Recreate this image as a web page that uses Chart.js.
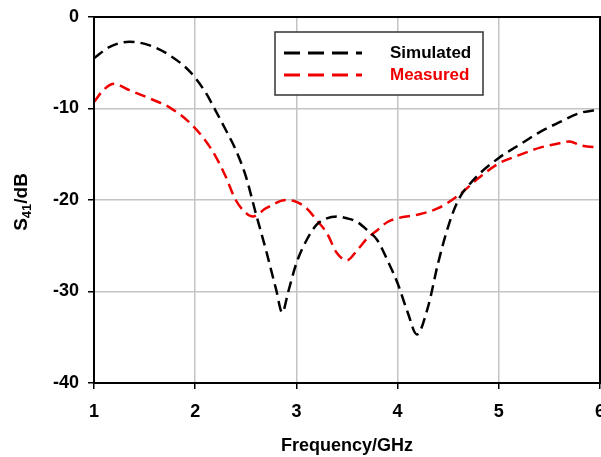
<!DOCTYPE html>
<html lang="en">
<head>
    <meta charset="UTF-8">
    <title>S41 vs Frequency</title>
    <script src="https://cdn.jsdelivr.net/npm/chart.js"></script>
    <style>
        body {
            margin: 0;
            padding: 0;
            background: #FFFFFF;
        }
        #wrap {
            width: 601px;
            height: 457px;
        }
    </style>
</head>
<body>
    <div id="wrap">
        <canvas id="s41Chart" width="601" height="457"></canvas>
    </div>

    <script>
        // Simulated S41 (GHz, dB)
        const simFreq = [1.0, 1.15, 1.35, 1.55, 1.75, 1.95, 2.1, 2.2, 2.3, 2.4, 2.5, 2.6, 2.7, 2.8, 2.86,
                         2.92, 3.0, 3.1, 3.2, 3.3, 3.4, 3.5, 3.6, 3.7, 3.8, 3.9, 4.0, 4.1, 4.19,
                         4.3, 4.4, 4.5, 4.6, 4.75, 5.0, 5.2, 5.4, 5.6, 5.8, 6.0];
        const simLoss = [-4.5, -3.3, -2.7, -3.1, -4.2, -6.0, -8.2, -10.2, -12.3, -14.5, -17.4, -21.5, -25.5, -29.8, -32.3,
                         -30.0, -26.9, -24.4, -22.7, -22.0, -21.8, -22.0, -22.4, -23.3, -24.4, -26.6, -29.1, -32.3, -34.7,
                         -31.7, -26.9, -22.9, -20.0, -17.8, -15.4, -14.0, -12.6, -11.5, -10.5, -10.1];

        // Measured S41 (GHz, dB)
        const measFreq = [1.0, 1.1, 1.2, 1.35, 1.55, 1.75, 1.95, 2.1, 2.2, 2.3, 2.4, 2.5, 2.57, 2.7, 2.9,
                          3.0, 3.1, 3.2, 3.3, 3.4, 3.5, 3.6, 3.7, 3.8, 3.9, 4.0, 4.2, 4.4, 4.6,
                          4.8, 5.0, 5.2, 5.4, 5.6, 5.7, 5.8, 6.0];
        const measLoss = [-9.3, -7.9, -7.3, -8.0, -8.9, -9.9, -11.6, -13.5, -15.2, -17.4, -20.0, -21.4, -21.8, -20.9, -20.0,
                          -20.2, -20.9, -22.2, -23.6, -25.8, -26.6, -25.5, -24.2, -23.3, -22.4, -22.0, -21.6, -20.9, -19.5,
                          -17.6, -16.0, -15.1, -14.3, -13.8, -13.6, -14.0, -14.3];

        const seriesNames = ['Simulated', 'Measured'];
        const seriesColors = ['#000000', '#EE0000'];

        const xTicks = [1, 2, 3, 4, 5, 6];
        const yTicks = [0, -10, -20, -30, -40];

        const fontFamily = "'Liberation Sans', Arial, sans-serif";

        function toPoints(xs, ys) {
            return xs.map((x, i) => ({ x: x, y: ys[i] }));
        }

        // frame around plot area + legend + y title with subscript
        const extras = {
            id: 'extras',
            afterDraw(chart) {
                const ctx = chart.ctx;
                const a = chart.chartArea;
                ctx.save();

                // black frame
                ctx.strokeStyle = '#000';
                ctx.lineWidth = 2;
                ctx.strokeRect(a.left, a.top, a.right - a.left, a.bottom - a.top);

                // legend box
                ctx.fillStyle = '#fff';
                ctx.fillRect(275, 32, 208, 63);
                ctx.strokeStyle = '#333';
                ctx.lineWidth = 1.5;
                ctx.strokeRect(275, 32, 208, 63);

                const rows = [53, 75];
                rows.forEach((y, i) => {
                    ctx.beginPath();
                    ctx.setLineDash([16, 8]);
                    ctx.lineWidth = 3;
                    ctx.strokeStyle = seriesColors[i];
                    ctx.moveTo(284, y);
                    ctx.lineTo(362, y);
                    ctx.stroke();
                    ctx.setLineDash([]);
                    ctx.fillStyle = seriesColors[i];
                    ctx.font = 'bold 17px ' + fontFamily;
                    ctx.textBaseline = 'middle';
                    ctx.textAlign = 'left';
                    ctx.fillText(seriesNames[i], 390, y);
                });

                // y title: S41/dB with subscript
                ctx.translate(27, 202);
                ctx.rotate(-Math.PI / 2);
                ctx.fillStyle = '#000';
                ctx.textBaseline = 'alphabetic';
                ctx.textAlign = 'left';
                const big = 'bold 19px ' + fontFamily;
                const small = 'bold 13px ' + fontFamily;
                ctx.font = big;
                const wS = ctx.measureText('S').width;
                const wD = ctx.measureText('/dB').width;
                ctx.font = small;
                const wSub = ctx.measureText('41').width;
                let x0 = -(wS + wSub + wD) / 2;
                ctx.font = big;
                ctx.fillText('S', x0, 0);
                ctx.font = small;
                ctx.fillText('41', x0 + wS, 4);
                ctx.font = big;
                ctx.fillText('/dB', x0 + wS + wSub, 0);

                ctx.restore();
            }
        };

        const ctx = document.getElementById('s41Chart').getContext('2d');
        new Chart(ctx, {
            type: 'line',
            data: {
                datasets: [
                    {
                        label: seriesNames[0],
                        data: toPoints(simFreq, simLoss),
                        borderColor: seriesColors[0],
                        borderWidth: 2.5,
                        borderDash: [11, 6],
                        pointRadius: 0,
                        fill: false,
                        cubicInterpolationMode: 'monotone'
                    },
                    {
                        label: seriesNames[1],
                        data: toPoints(measFreq, measLoss),
                        borderColor: seriesColors[1],
                        borderWidth: 2.5,
                        borderDash: [11, 6],
                        pointRadius: 0,
                        fill: false,
                        cubicInterpolationMode: 'monotone'
                    }
                ]
            },
            options: {
                responsive: false,
                animation: false,
                layout: {
                    autoPadding: false,
                    padding: { left: 0, right: 1, top: 17, bottom: 0 }
                },
                plugins: {
                    legend: { display: false },
                    tooltip: { enabled: false }
                },
                scales: {
                    x: {
                        type: 'linear',
                        min: 1,
                        max: 6,
                        afterBuildTicks: scale => { scale.ticks = xTicks.map(v => ({ value: v })); },
                        afterFit: scale => {
                            scale.height = 74;
                            scale.paddingLeft = 0;
                            scale.paddingRight = 0;
                        },
                        ticks: {
                            color: '#000',
                            padding: 12,
                            font: { family: fontFamily, size: 18, weight: 'bold' }
                        },
                        grid: {
                            color: '#C4C4C4',
                            lineWidth: 1.5,
                            tickColor: '#000',
                            tickLength: 6
                        },
                        border: { color: '#000', width: 2 },
                        title: {
                            display: true,
                            text: 'Frequency/GHz',
                            color: '#000',
                            padding: { top: 6, bottom: 0 },
                            font: { family: fontFamily, size: 18, weight: 'bold' }
                        }
                    },
                    y: {
                        min: -40,
                        max: 0,
                        afterBuildTicks: scale => { scale.ticks = yTicks.map(v => ({ value: v })); },
                        afterFit: scale => {
                            scale.width = 94;
                            scale.paddingTop = 0;
                            scale.paddingBottom = 0;
                        },
                        ticks: {
                            color: '#000',
                            padding: 9,
                            font: { family: fontFamily, size: 18, weight: 'bold' }
                        },
                        grid: {
                            color: '#C4C4C4',
                            lineWidth: 1.5,
                            tickColor: '#000',
                            tickLength: 6
                        },
                        border: { color: '#000', width: 2 }
                    }
                }
            },
            plugins: [extras]
        });
    </script>
</body>
</html>
